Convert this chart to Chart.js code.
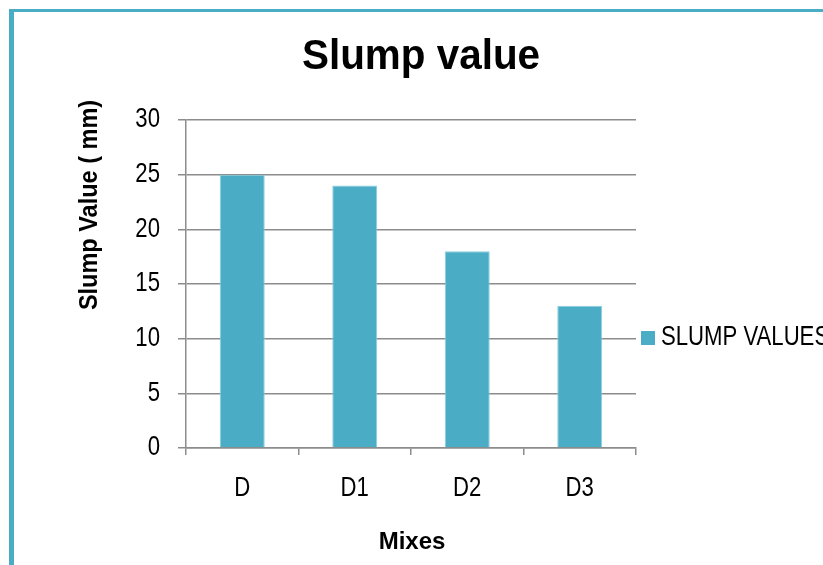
<!DOCTYPE html>
<html>
<head>
<meta charset="utf-8">
<script src="https://cdn.jsdelivr.net/npm/chart.js@4"></script>
<style>
  html, body { margin: 0; padding: 0; background: #fff; overflow: hidden; }
  #wrap { position: relative; width: 823px; height: 565px; }
  #frame { position: absolute; left: 9px; top: 9px; width: 900px; height: 700px;
           border-left: 5px solid #4bacc6; border-top: 3px solid #4bacc6; box-sizing: border-box; }
  canvas { position: absolute; left: 0; top: 0; }
</style>
</head>
<body>
<div id="wrap">
  <div id="frame"></div>
  <canvas id="slumpChart" width="823" height="565"></canvas>
</div>
<script>
// chart data
const mixes = ['D', 'D1', 'D2', 'D3'];
const slumpValues = [25, 24, 18, 13];
const yTicks = [0, 5, 10, 15, 20, 25, 30];

const FONT = '"Liberation Sans", Arial, sans-serif';
const barColor = '#4bacc6';
const gridColor = '#8c8c8c';

// the original uses a narrow face, so squeeze text horizontally
function drawText(ctx, text, x, y, font, align, sx) {
    ctx.save();
    ctx.translate(x, y);
    ctx.scale(sx, 1);
    ctx.font = font;
    ctx.textAlign = align;
    ctx.fillText(text, 0, 0);
    ctx.restore();
}

// Title, tick labels, axis titles and legend drawn by hand
const labelsPlugin = {
    id: 'labelsPlugin',
    afterDraw(chart) {
        const ctx = chart.ctx;
        const xs = chart.scales.x, ys = chart.scales.y;
        ctx.save();
        ctx.fillStyle = '#000';
        ctx.textBaseline = 'middle';

        drawText(ctx, 'Slump value', 421, 57, 'bold 43px ' + FONT, 'center', 0.94);

        // tick labels
        yTicks.forEach(v => {
            drawText(ctx, String(v), 160, ys.getPixelForValue(v), '27px ' + FONT, 'right', 0.82);
        });
        mixes.forEach((m, i) => {
            drawText(ctx, m, xs.getPixelForValue(i), 489, '27px ' + FONT, 'center', 0.82);
        });

        // axis titles
        drawText(ctx, 'Mixes', 412, 542, 'bold 24px ' + FONT, 'center', 1);
        ctx.save();
        ctx.translate(90, 205);
        ctx.rotate(-Math.PI / 2);
        drawText(ctx, 'Slump Value ( mm)', 0, 0, 'bold 25px ' + FONT, 'center', 0.94);
        ctx.restore();

        // legend
        ctx.fillStyle = chart.data.datasets[0].backgroundColor;
        ctx.fillRect(641, 331, 14, 14);
        ctx.fillStyle = '#000';
        drawText(ctx, chart.data.datasets[0].label, 661, 338, '27px ' + FONT, 'left', 0.82);
        ctx.restore();
    }
};

const ctx = document.getElementById('slumpChart').getContext('2d');
new Chart(ctx, {
    type: 'bar',
    data: {
        labels: mixes,
        datasets: [{
            label: 'SLUMP VALUES',
            data: slumpValues,
            backgroundColor: barColor,
            borderColor: '#8ccfe0',
            borderWidth: 1,
            barPercentage: 0.4,
            categoryPercentage: 1
        }]
    },
    options: {
        responsive: false,
        animation: false,
        layout: { padding: { left: 0, top: 120, right: 187, bottom: 0 } },
        plugins: {
            legend: { display: false },
            title: { display: false },
            tooltip: { enabled: false }
        },
        scales: {
            x: {
                afterFit(scale) { scale.height = 117; },
                grid: { drawOnChartArea: false, drawTicks: true, tickLength: 7, color: gridColor, lineWidth: 1.5 },
                border: { color: gridColor, width: 1.5 },
                ticks: { display: false }
            },
            y: {
                min: 0,
                max: 30,
                afterFit(scale) { scale.width = 186; },
                afterBuildTicks(scale) { scale.ticks = yTicks.map(v => ({ value: v })); },
                grid: { color: gridColor, lineWidth: 1.5, tickLength: 8 },
                border: { color: gridColor, width: 1.5 },
                ticks: { display: false }
            }
        }
    },
    plugins: [labelsPlugin]
});
</script>
</body>
</html>
